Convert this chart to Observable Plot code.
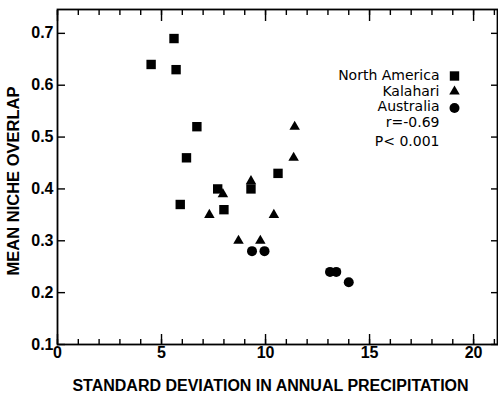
<!DOCTYPE html>
<html>
<head>
<meta charset="utf-8">
<script src="https://cdn.jsdelivr.net/npm/d3@7"></script>
<script src="https://cdn.jsdelivr.net/npm/@observablehq/plot@0.6"></script>
<style>
  html, body { margin: 0; padding: 0; background: white; }
</style>
</head>
<body>
<div id="chart"></div>
<script>
// North America (squares)
const naX = [4.5, 5.6, 5.7, 6.7, 6.2, 7.7, 5.9, 8.0, 9.3, 10.6];
const naY = [0.64, 0.69, 0.63, 0.52, 0.46, 0.40, 0.37, 0.36, 0.40, 0.43];
// Kalahari (triangles)
const kaX = [11.4, 11.35, 9.3, 7.95, 7.3, 10.4, 8.7, 9.75];
const kaY = [0.52, 0.46, 0.415, 0.39, 0.35, 0.35, 0.30, 0.30];
// Australia (circles)
const auX = [9.35, 9.95, 13.1, 13.4, 14.0];
const auY = [0.28, 0.28, 0.24, 0.24, 0.22];

const xMajorTicks = [0, 5, 10, 15, 20];
const xMinorTicks = d3.range(0, 22);
const yTicks = [0.1, 0.2, 0.3, 0.4, 0.5, 0.6, 0.7];

const seriesNames = ["North America", "Kalahari", "Australia"];
const statLines = ["r=-0.69", "P< 0.001"];
const xTitle = "STANDARD DEVIATION IN ANNUAL PRECIPITATION";
const yTitle = "MEAN NICHE OVERLAP";

const toRows = (xs, ys) => xs.map((x, i) => ({x, y: ys[i]}));
const na = toRows(naX, naY), ka = toRows(kaX, kaY), au = toRows(auX, auY);

const legendFont = "'DejaVu Sans', sans-serif";
const symbols = ["square", "triangle", "circle"];
const symR = [5.3, 3.9, 5];
const legendDy = [66.5, 82, 97.5];
const statDy = [113.5, 132];

const blank = () => "";

const chart = Plot.plot({
  width: 498,
  height: 393,
  marginLeft: 57,
  marginRight: 1,
  marginTop: 9,
  marginBottom: 49,
  x: {domain: [0, 21.15]},
  y: {domain: [0.1, 0.746]},
  style: {fontFamily: "'Liberation Sans', Arial, sans-serif", background: "white", color: "black"},
  marks: [
    Plot.frame({stroke: "black", strokeWidth: 1.8}),
    Plot.axisX({ticks: xMinorTicks, tickSize: -5, tickFormat: blank, label: null, strokeWidth: 1.4}),
    Plot.axisX({ticks: xMajorTicks, tickSize: -10, tickPadding: 12, tickFormat: d => String(d), label: null,
      strokeWidth: 1.4, fontSize: 16, fontWeight: "bold"}),
    Plot.axisX({anchor: "top", ticks: xMinorTicks, tickSize: -5, tickFormat: blank, label: null, strokeWidth: 1.4}),
    Plot.axisX({anchor: "top", ticks: xMajorTicks, tickSize: -11, tickFormat: blank, label: null, strokeWidth: 1.4}),
    Plot.axisY({ticks: yTicks, tickSize: -8, tickPadding: 12, tickFormat: d3.format(".1f"), label: null,
      strokeWidth: 1.4, fontSize: 16, fontWeight: "bold"}),
    Plot.axisY({anchor: "right", ticks: yTicks, tickSize: -7, tickFormat: blank, label: null, strokeWidth: 1.4}),
    Plot.dot(na, {x: "x", y: "y", symbol: "square", r: symR[0], fill: "black", stroke: "none"}),
    Plot.dot(ka, {x: "x", y: "y", symbol: "triangle", r: symR[1], fill: "black", stroke: "none"}),
    Plot.dot(au, {x: "x", y: "y", symbol: "circle", r: symR[2], fill: "black", stroke: "none"}),
    // legend
    ...seriesNames.flatMap((name, i) => [
      Plot.text([name], {text: d => d, frameAnchor: "top-right", dx: -58, dy: legendDy[i],
        textAnchor: "end", lineAnchor: "middle", fontSize: 14, fontWeight: 500, fontFamily: legendFont}),
      Plot.dot([name], {frameAnchor: "top-right", dx: -43, dy: legendDy[i] + (i === 2 ? 1 : 0),
        symbol: symbols[i], r: symR[i], fill: "black", stroke: "none"})
    ]),
    ...statLines.map((s, i) =>
      Plot.text([s], {text: d => d, frameAnchor: "top-right", dx: -58, dy: statDy[i],
        textAnchor: "end", lineAnchor: "middle", fontSize: 14, fontWeight: 400, fontFamily: legendFont})
    ),
    // axis titles
    Plot.text([xTitle], {text: d => d, frameAnchor: "bottom", dx: -7, dy: 41, lineAnchor: "middle",
      fontSize: 16, fontWeight: "bold"}),
    Plot.text([yTitle], {text: d => d, frameAnchor: "left", dx: -44, dy: 4, rotate: -90, lineAnchor: "middle",
      textAnchor: "middle", fontSize: 16.5, fontWeight: "bold"})
  ]
});
document.getElementById("chart").appendChild(chart);
</script>
</body>
</html>
